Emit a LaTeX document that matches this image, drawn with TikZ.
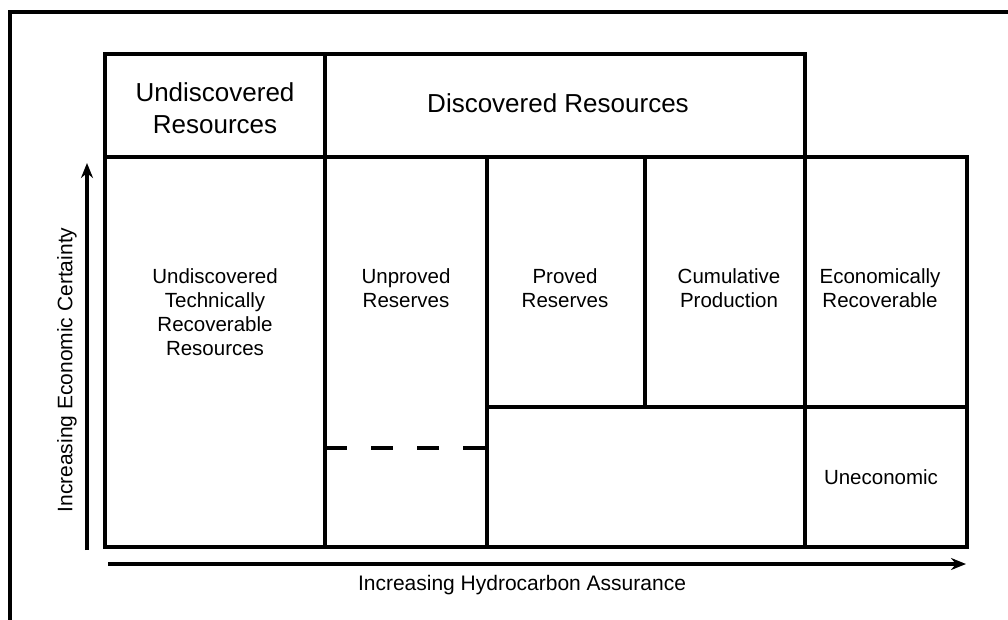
\documentclass[tikz,border=0pt]{standalone}
\usepackage{fontspec}
\setmainfont{Liberation Sans}
\usetikzlibrary{arrows.meta}
\begin{document}
\begin{tikzpicture}[x=1pt,y=-1pt,
  frame/.style={line width=3.2pt,line cap=rect},
  axis/.style={line width=3.4pt,-{Stealth[length=15pt,width=12pt]}},
  head/.style={font=\fontsize{26}{32}\selectfont,align=center},
  body/.style={font=\fontsize{20.5}{24}\selectfont,align=center},
  axlabel/.style={font=\fontsize{21}{24}\selectfont}]
\useasboundingbox (0,0) rectangle (1008,620);
\clip (0,0) rectangle (1008,620);
% outer border (clipped on right and bottom)
\draw[line width=3.2pt] (10,640) -- (10,12) -- (1030,12);
% header boxes
\draw[frame] (105,157) -- (105,54) -- (805,54) -- (805,157);
\draw[frame] (325,54) -- (325,157);
% main grid
\draw[frame] (105,157) rectangle (967,547);
\draw[frame] (325,157) -- (325,547);
\draw[frame] (487,157) -- (487,547);
\draw[frame] (645,157) -- (645,407);
\draw[frame] (805,157) -- (805,547);
\draw[frame] (487,407) -- (967,407);
\draw[line width=3.2pt,dash pattern=on 22pt off 24pt] (325,448) -- (487,448);
% axes
\coordinate (vs) at (87,550);
\coordinate (ve) at (87,163);
\coordinate (hs) at (108,564);
\coordinate (he) at (966,564);
\draw[axis] (vs) -- (ve);
\draw[axis] (hs) -- (he);
\node[axlabel,rotate=90] (yl) at (67,370) {Increasing Economic Certainty};
\node[axlabel] (xl) at (522,585) {Increasing Hydrocarbon Assurance};
% labels
\node[head] (ur) at (215,108) {Undiscovered\\Resources};
\node[head] (dr) at (558,103) {Discovered Resources};
\node[body] (utr) at (215,312) {Undiscovered\\Technically\\Recoverable\\Resources};
\node[body] (upr) at (406,288) {Unproved\\Reserves};
\node[body] (pr) at (565,288) {Proved\\Reserves};
\node[body] (cp) at (729,288) {Cumulative\\Production};
\node[body] (er) at (880,288) {Economically\\Recoverable};
\node[body] (un) at (881,477) {Uneconomic};
\end{tikzpicture}
\end{document}
